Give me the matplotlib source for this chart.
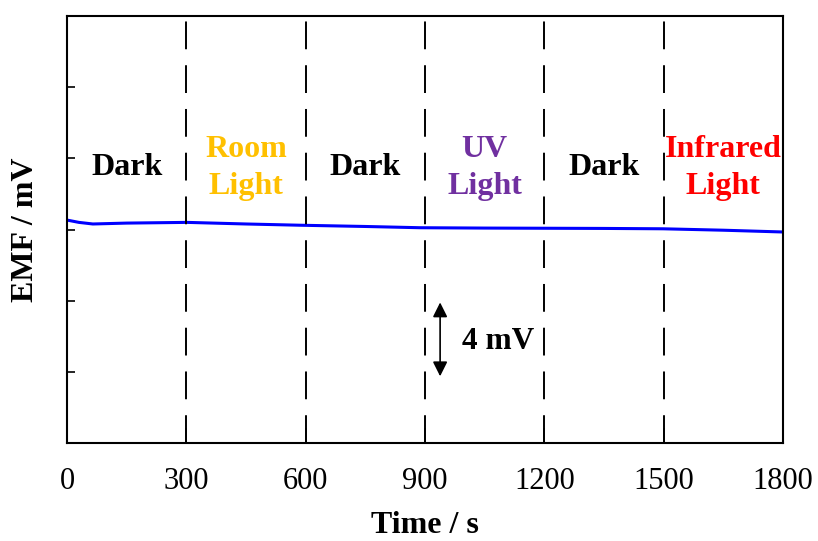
import matplotlib
matplotlib.use('Agg')
import matplotlib.pyplot as plt

plt.rcParams['font.family'] = ['Liberation Serif', 'DejaVu Serif']
plt.rcParams['lines.scale_dashes'] = False

# EMF trace (time in s, EMF in mV)
time_s = [0, 30, 65, 150, 302, 450, 586, 750, 887, 1050, 1202, 1350, 1498, 1650, 1800]
emf_mv = [12.53, 12.40, 12.31, 12.36, 12.40, 12.31, 12.24, 12.17, 12.10, 12.08, 12.07, 12.06, 12.04, 11.96, 11.86]

boundaries = [300, 600, 900, 1200, 1500]
phase_labels = ['Dark', 'Room\nLight', 'Dark', 'UV\nLight', 'Dark', 'Infrared\nLight']
phase_colors = ['black', '#FFC000', 'black', '#7030A0', 'black', '#FF0000']
phase_centers = [150, 450, 750, 1050, 1350, 1650]

xticks = [0, 300, 600, 900, 1200, 1500, 1800]
yticks = [4, 8, 12, 16, 20]

fig = plt.figure(figsize=(8.18, 5.41), dpi=100)
ax = fig.add_axes([67 / 818, 1 - 443 / 541, 716 / 818, 427 / 541])

ax.plot(time_s, emf_mv, color='#0000FF', linewidth=2.2)

for b in boundaries:
    ax.axvline(b, color='black', linewidth=1.4, linestyle=(0, (20, 11.5)))

for lab, col, xc in zip(phase_labels, phase_colors, phase_centers):
    ax.text(xc, 15.47, lab, color=col, fontsize=23, fontweight='bold',
            ha='center', va='center', linespacing=1.38)

# 4 mV scale arrow
ax.annotate('', xy=(938, 7.9), xytext=(938, 3.75),
            arrowprops=dict(arrowstyle='<|-|>', color='black', lw=1.2,
                            mutation_scale=22, shrinkA=0, shrinkB=0))
ax.text(993, 5.73, '4 mV', fontsize=22.5, fontweight='bold', ha='left', va='center')

ax.set_xlim(0, 1800)
ax.set_ylim(0, 24)
ax.set_xticks(xticks)
ax.set_yticks(yticks)
ax.set_yticklabels([])
ax.tick_params(axis='x', direction='in', length=11, width=1.2, labelsize=22, pad=17)
ax.tick_params(axis='y', direction='in', length=6, width=1.2)
for s in ax.spines.values():
    s.set_linewidth(1.5)

ax.set_xlabel('Time / s', fontsize=23, fontweight='bold', labelpad=11)
ax.set_ylabel('EMF / mV', fontsize=23, fontweight='bold', labelpad=16)

fig.savefig('out.png', dpi=100)
